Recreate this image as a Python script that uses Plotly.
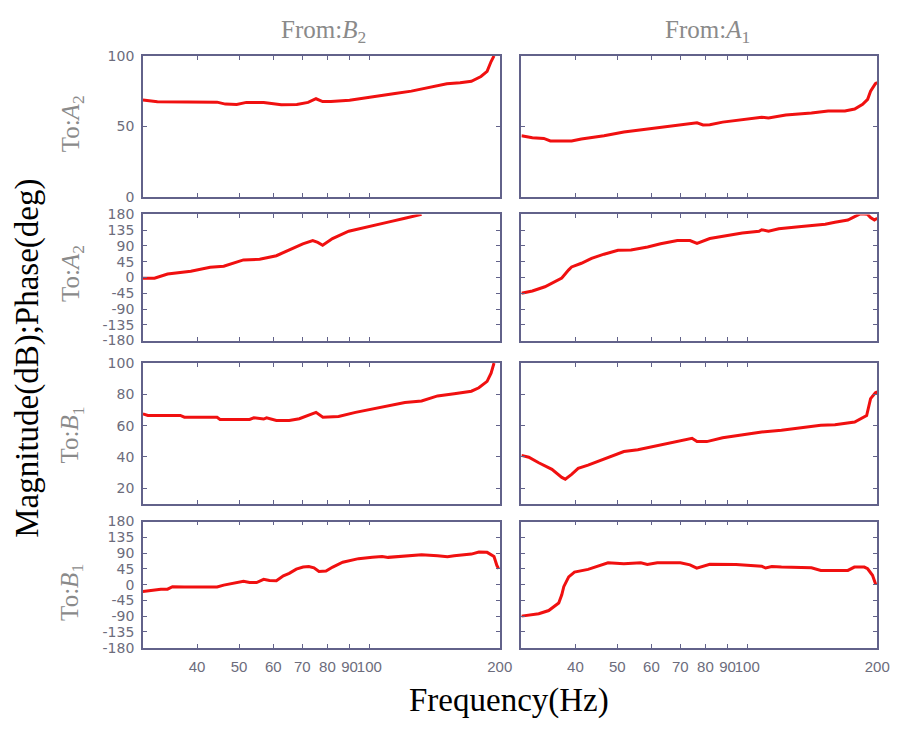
import plotly.graph_objects as go

# ---------------- labels ----------------
col_titles = ["From:<i>B</i><sub>2</sub>", "From:<i>A</i><sub>1</sub>"]
row_titles = ["To:<i>A</i><sub>2</sub>", "To:<i>A</i><sub>2</sub>",
              "To:<i>B</i><sub>1</sub>", "To:<i>B</i><sub>1</sub>"]
x_title = "Frequency(Hz)"
y_title = "Magnitude(dB);Phase(deg)"

x_ticks = [40, 50, 60, 70, 80, 90, 100, 200]
x_tick_labels = ["40", "50", "60", "70", "80", "90", "100", "200"]
mag_top_ticks = [0, 50, 100]
mag_bot_ticks = [20, 40, 60, 80, 100]
phase_ticks = [-180, -135, -90, -45, 0, 45, 90, 135, 180]

# ---------------- data ----------------
# From B2 -> To A2, magnitude
b2a2_mag_f = [30, 32.4, 44.5, 46.5, 49.4, 52, 54.9, 57, 62.6, 68, 72.2, 75.3, 78, 81.5, 90, 96.4,
              105, 114.6, 125, 136, 151, 162, 172, 181, 187, 191, 194]
b2a2_mag = [68.7, 67.4, 67.2, 65.8, 65.5, 67, 67, 67, 65.3, 65.5, 67, 69.6, 67.6, 67.6, 68.5, 70,
            71.5, 73.4, 75, 77.3, 80.3, 81, 82, 85.4, 89, 96, 100]
# From B2 -> To A2, phase
b2a2_ph_f = [30, 31.9, 34.2, 38.7, 42.9, 46.1, 51.2, 55.8, 61, 65.3, 70.2, 74, 76, 78, 82.2,
             89.6, 99.5, 110.5, 120.8, 132]
b2a2_ph = [-2, -2, 10, 18, 29, 32, 50, 52, 62, 78, 96, 105, 100, 92, 111,
           132, 146, 158, 169, 180]
# From B2 -> To B1, magnitude
b2b1_mag_f = [30, 30.8, 36.6, 37.4, 44.5, 45.2, 52.9, 54.1, 57, 57.9, 61, 65.3, 68.9, 72.5, 75.3,
              78.1, 84.9, 92.9, 101.6, 110.5, 120.8, 132, 143.7, 157, 172, 179, 187, 191, 194]
b2b1_mag = [67.5, 66.5, 66.5, 65.4, 65.4, 64, 64, 65, 64.2, 65, 63.3, 63.3, 64.4, 66.5, 68.5,
            65.4, 65.8, 68.5, 70.6, 72.7, 74.8, 75.8, 79, 80.4, 82, 84.2, 88.3, 93.5, 100]
# From B2 -> To B1, phase
b2b1_ph_f = [30, 31.9, 33, 34.2, 35.1, 37.4, 44.5, 46.1, 48.6, 51.2, 52.9, 54.9, 57, 58.8, 61,
             63.3, 65.3, 67.8, 70.3, 72.5, 74.5, 76.5, 79.4, 82.3, 86.8, 91.5, 94.4, 101.6, 107,
             110.5, 120.8, 132, 143.7, 151.5, 157, 172, 179, 187, 194, 197, 199]
b2b1_ph = [-20, -15, -13, -13, -6, -7, -7, -1.4, 3.3, 9.7, 6, 6, 15, 11.6, 11,
           25, 32, 44, 50, 51.6, 48, 37.7, 38.5, 50, 63.7, 70.5, 74, 78, 80,
           77.7, 82.3, 85, 82.3, 79.5, 82, 87, 93, 92, 80, 54.4, 45]
# From A1 -> To A2, magnitude
a1a2_mag_f = [30, 31.8, 33.8, 35, 39.2, 41.3, 46.6, 51.8, 57.6, 64, 71, 76.5, 79, 81.9, 87.7, 97.4,
              108, 112, 122.8, 140.8, 153.9, 168.3, 177.3, 185, 190, 193, 198, 200]
a1a2_mag = [43.3, 41.9, 41.4, 39.6, 39.6, 41, 43.3, 46, 47.7, 49.5, 51.6, 52.5, 51, 51.2, 53, 54.6,
            56.5, 56, 58.1, 59.5, 60.9, 60.9, 62.3, 65.7, 69.2, 75, 80.3, 81]
# From A1 -> To A2, phase
a1a2_ph_f = [30, 31.8, 34, 35.9, 37.2, 38.6, 39.2, 41.3, 43.6, 46.6, 50.2, 53.8, 58.8, 63, 68.9,
             73.7, 76.5, 81.9, 89.6, 97.4, 106.5, 108, 112, 118.3, 133.5, 151.5, 159.6, 171,
             177.3, 183, 190, 193, 197, 200]
a1a2_ph = [-45, -38.6, -26.5, -12.6, -1.4, 21.8, 30, 40.5, 54.4, 66.4, 77.6, 78.6, 87, 96.3, 105.5,
           105.5, 97.2, 111, 119.4, 127, 131.7, 136.2, 131.7, 139, 145.6, 152, 157.7, 164,
           173.5, 182, 180, 170.7, 164, 169]
# From A1 -> To B1, magnitude
a1b1_mag_f = [30, 31.2, 32.9, 35.3, 37.2, 37.9, 39.2, 40.6, 42.8, 46.6, 51.8, 55.8, 60.7, 66.4, 71,
              74.5, 76.5, 80.6, 87.7, 97.4, 108, 120, 133.5, 148, 159.6, 177.3, 189, 190.6, 193,
              198, 200]
a1b1_mag = [41, 39.8, 36.3, 32.1, 26.9, 25.8, 28.9, 32.7, 34.8, 38.8, 43.5, 44.6, 46.7, 48.8, 50.8,
            51.9, 49.8, 49.8, 52.3, 54, 56, 57.1, 58.5, 60.2, 60.6, 62.3, 66.5, 70.6, 77.3,
            81, 81.5]
# From A1 -> To B1, phase
a1b1_ph_f = [30, 32.9, 34.7, 36.6, 37.2, 37.6, 38.6, 39.8, 42.8, 45.1, 47.6, 51.8, 56.7, 58.7,
             61.9, 70, 73.7, 76.4, 78.9, 81.9, 94.2, 108, 110.3, 114, 120, 140.8, 148, 171, 177,
             186.6, 190, 195, 198.4]
a1b1_ph = [-90, -83, -74, -52.5, -29, -6, 22, 35.7, 43.3, 52.5, 62, 59.2, 62, 57.6,
           62.4, 62.4, 56.3, 47, 52.5, 58, 57.6, 52.5, 47.3, 51.6, 50, 48, 40.5, 40.5, 50,
           50, 45.2, 26.5, 0.6]

panels = [  # (row, col, freqs, values, kind)
    (1, 1, b2a2_mag_f, b2a2_mag, "magtop"),
    (1, 2, a1a2_mag_f, a1a2_mag, "magtop"),
    (2, 1, b2a2_ph_f, b2a2_ph, "phase"),
    (2, 2, a1a2_ph_f, a1a2_ph, "phase"),
    (3, 1, b2b1_mag_f, b2b1_mag, "magbot"),
    (3, 2, a1b1_mag_f, a1b1_mag, "magbot"),
    (4, 1, b2b1_ph_f, b2b1_ph, "phase"),
    (4, 2, a1b1_ph_f, a1b1_ph, "phase"),
]

W, H = 908, 731
col_px = [(145, 507), (529, 890)]
row_px = [(49, 193), (211, 340), (363, 507), (525, 654)]

frame = "#62628a"
ytickfont = dict(family="DejaVu Sans", size=14, color="#6c6c7c")
xtickfont = dict(family="Liberation Sans", size=15, color="#6c6c7c")
line_color = "#f01010"

fig = go.Figure()
layout = dict(width=W, height=H, margin=dict(l=0, r=0, t=0, b=0),
              paper_bgcolor="white", plot_bgcolor="white", showlegend=False)

for i, (r, c, f, v, kind) in enumerate(panels):
    k = i + 1
    xa = "xaxis" if k == 1 else f"xaxis{k}"
    ya = "yaxis" if k == 1 else f"yaxis{k}"
    xref = "x" if k == 1 else f"x{k}"
    yref = "y" if k == 1 else f"y{k}"
    fig.add_trace(go.Scatter(x=f, y=v, mode="lines", xaxis=xref, yaxis=yref,
                             line=dict(color=line_color, width=3), hoverinfo="skip"))
    x0, x1 = col_px[c - 1]
    y0, y1 = row_px[r - 1]
    layout[xa] = dict(
        domain=[x0 / W, x1 / W], anchor=yref, type="log",
        range=[1.4771212547, 2.3010299957],
        tickvals=x_ticks, ticktext=x_tick_labels, showticklabels=(r == 4),
        tickangle=0, ticklabelstandoff=5,
        ticks="inside", ticklen=4, tickwidth=1.3, tickcolor=frame,
        showline=True, linecolor=frame, linewidth=1.6, mirror="ticks",
        showgrid=False, zeroline=False, tickfont=xtickfont, fixedrange=True,
    )
    if kind == "magtop":
        yr, yt = [0, 100], mag_top_ticks
    elif kind == "magbot":
        yr, yt = [10, 100], mag_bot_ticks
    else:
        yr, yt = [-180, 180], phase_ticks
    layout[ya] = dict(
        domain=[1 - y1 / H, 1 - y0 / H], anchor=xref, range=yr,
        tickvals=yt, ticktext=[str(t) for t in yt], showticklabels=(c == 1),
        ticks="inside", ticklen=4, tickwidth=1.3, tickcolor=frame,
        showline=True, linecolor=frame, linewidth=1.6, mirror="ticks",
        showgrid=False, zeroline=False, tickfont=ytickfont, fixedrange=True,
        ticklabelstandoff=4,
    )

annotations = []
serif = "Liberation Serif"
col_cx = [328, 718]
for cx, t in zip(col_cx, col_titles):
    annotations.append(dict(x=cx / W, y=1 - 24 / H, xref="paper", yref="paper", text=t,
                            showarrow=False, xanchor="center", yanchor="middle",
                            font=dict(family=serif, size=25, color="#8a8a8a")))
row_cy = [118, 271, 436, 597]
for cy, t in zip(row_cy, row_titles):
    annotations.append(dict(x=73 / W, y=1 - cy / H, xref="paper", yref="paper", text=t,
                            showarrow=False, xanchor="center", yanchor="middle", textangle=-90,
                            font=dict(family=serif, size=25, color="#8a8a8a")))
annotations.append(dict(x=516 / W, y=1 - 708 / H, xref="paper", yref="paper", text=x_title,
                        showarrow=False, xanchor="center", yanchor="middle",
                        font=dict(family=serif, size=33, color="black")))
annotations.append(dict(x=28 / W, y=1 - 358 / H, xref="paper", yref="paper", text=y_title,
                        showarrow=False, xanchor="center", yanchor="middle", textangle=-90,
                        font=dict(family=serif, size=33, color="black")))
layout["annotations"] = annotations

fig.update_layout(**layout)
fig.write_html("out.html")
